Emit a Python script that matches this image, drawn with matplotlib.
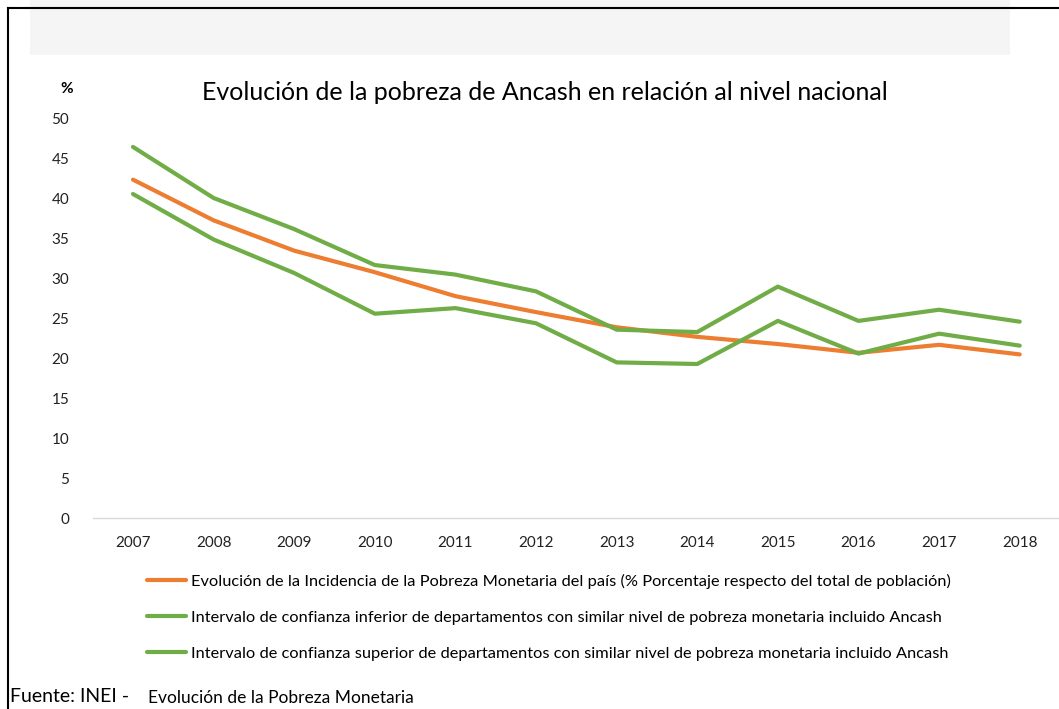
import matplotlib
matplotlib.use("Agg")
import matplotlib.pyplot as plt
from matplotlib.lines import Line2D
from matplotlib.patches import Rectangle

plt.rcParams['font.family'] = ['Lato', 'DejaVu Sans']

# data
years = ['2007', '2008', '2009', '2010', '2011', '2012',
         '2013', '2014', '2015', '2016', '2017', '2018']
pobreza_pais = [42.4, 37.3, 33.5, 30.8, 27.8, 25.8, 23.9, 22.7, 21.8, 20.7, 21.7, 20.5]
ic_inferior = [40.6, 34.9, 30.7, 25.6, 26.3, 24.4, 19.5, 19.3, 24.7, 20.6, 23.1, 21.6]
ic_superior = [46.5, 40.1, 36.2, 31.7, 30.5, 28.4, 23.6, 23.3, 29.0, 24.7, 26.1, 24.6]

labels = [
    'Evolución de la Incidencia de la Pobreza Monetaria del país (% Porcentaje respecto del total de población)',
    'Intervalo de confianza inferior de departamentos con similar nivel de pobreza monetaria incluido Ancash',
    'Intervalo de confianza superior de departamentos con similar nivel de pobreza monetaria incluido Ancash',
]
yticks = [0, 5, 10, 15, 20, 25, 30, 35, 40, 45, 50]

naranja = '#ED7D31'
verde = '#70AD47'

W, H = 1059, 709
fig = plt.figure(figsize=(W / 100, H / 100), dpi=100)

# faint watermark band at the top of the page
fig.add_artist(Rectangle((30 / W, 1 - 55 / H), 980 / W, 55 / H, transform=fig.transFigure,
                         facecolor='#f5f5f5', edgecolor='none', zorder=0))
# frame lines (left and top)
fig.add_artist(Line2D([8 / W, 8 / W], [0, 1 - 8 / H], color='black', lw=1.5, transform=fig.transFigure))
fig.add_artist(Line2D([8 / W, 1], [1 - 8 / H, 1 - 8 / H], color='black', lw=1.5, transform=fig.transFigure))

ax = fig.add_axes([92.7 / W, 1 - 518 / H, (1060 - 92.7) / W, (518 - 119) / H])
x = range(len(years))
ax.plot(x, pobreza_pais, color=naranja, lw=3, solid_capstyle='round', label=labels[0], zorder=2)
ax.plot(x, ic_inferior, color=verde, lw=3, solid_capstyle='round', label=labels[1], zorder=3)
ax.plot(x, ic_superior, color=verde, lw=3, solid_capstyle='round', label=labels[2], zorder=3)

ax.set_xlim(-0.5, len(years) - 0.5)
ax.set_ylim(0, 50)
ax.set_xticks(list(x))
ax.set_xticklabels(years)
ax.set_yticks(yticks)
ax.tick_params(length=0, labelsize=11, colors='#222222')
ax.tick_params(axis='x', pad=13)
ax.tick_params(axis='y', pad=17)
for s in ['top', 'right', 'left']:
    ax.spines[s].set_visible(False)
ax.spines['bottom'].set_color('#d9d9d9')
ax.spines['bottom'].set_linewidth(1)
ax.patch.set_alpha(0)

fig.text(67 / W, 1 - 89 / H, '%', fontsize=11, fontweight='bold', ha='center', va='center')
fig.text(545 / W, 1 - 92 / H, 'Evolución de la pobreza de Ancash en relación al nivel nacional',
         fontsize=18, ha='center', va='center')

fig.legend(loc='upper left', bbox_to_anchor=(147 / W, 1 - 574 / H), frameon=False,
           fontsize=11.8, handlelength=2.4, handletextpad=0.3, labelspacing=1.3,
           borderpad=0, borderaxespad=0)

fig.text(10 / W, 1 - 697 / H, 'Fuente: INEI - ', fontsize=14, ha='left', va='center')
fig.text(148 / W, 1 - 698 / H, 'Evolución de la Pobreza Monetaria', fontsize=12.5, ha='left', va='center')

fig.savefig('out.png', dpi=100)
